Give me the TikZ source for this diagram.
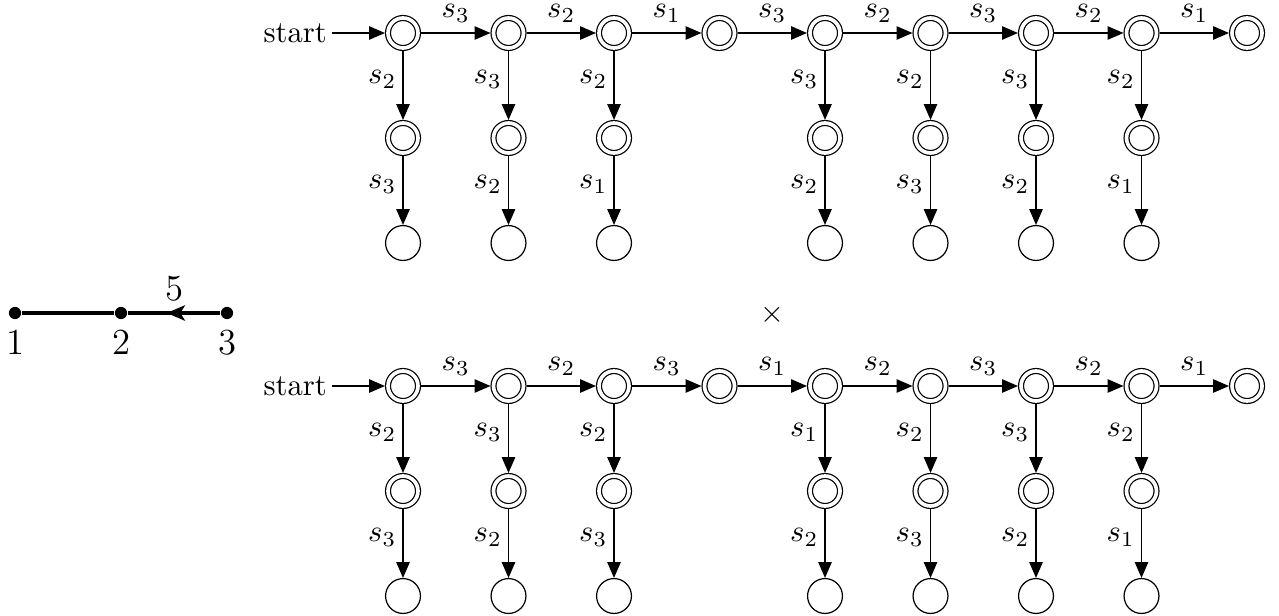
\documentclass[tikz,border=0pt]{standalone}
\usetikzlibrary{arrows.meta,decorations.markings}
\begin{document}
\begin{tikzpicture}[x=0.3268pt,y=-0.3268pt,
  acc/.style={circle,draw,double,double distance=1.2pt,minimum size=9.8pt,inner sep=0pt,outer sep=1pt},
  plain/.style={circle,draw,minimum size=11.4pt,inner sep=0pt},
  tr/.style={-{Triangle[length=5.2pt,width=4.4pt]}},
  vlab/.style={left,inner sep=2pt,yshift=2pt},
  hlab/.style={above,inner sep=1pt,yshift=2.3pt},
  gdot/.style={circle,fill,inner sep=0pt,minimum size=4pt},
  gedge/.style={line width=1pt}]
\useasboundingbox (0,0) rectangle (1279,615);

% ---------- top automaton ----------
\foreach \i in {0,...,8} \node[acc] (A\i) at ({403+105.5*\i},33) {};
\node[anchor=east,inner sep=1.5pt] (S1) at (332,33) {start};
\draw[tr] (S1) -- (A0);
\foreach \i/\l [count=\j] in {0/3,1/2,2/1,3/3,4/2,5/3,6/2,7/1}
  \draw[tr] (A\i) -- node[hlab] {$s_\l$} (A\j);
\foreach \i/\a/\b in {0/2/3,1/3/2,2/2/1,4/3/2,5/2/3,6/3/2,7/2/1} {
  \node[acc] (B\i) at ({403+105.5*\i},138) {};
  \node[plain] (C\i) at ({403+105.5*\i},243) {};
  \draw[tr] (A\i) -- node[vlab] {$s_\a$} (B\i);
  \draw[tr] (B\i) -- node[vlab] {$s_\b$} (C\i);
}

% ---------- bottom automaton ----------
\foreach \i in {0,...,8} \node[acc] (D\i) at ({403+105.5*\i},386) {};
\node[anchor=east,inner sep=1.5pt] (S2) at (332,386) {start};
\draw[tr] (S2) -- (D0);
\foreach \i/\l [count=\j] in {0/3,1/2,2/3,3/1,4/2,5/3,6/2,7/1}
  \draw[tr] (D\i) -- node[hlab] {$s_\l$} (D\j);
\foreach \i/\a/\b in {0/2/3,1/3/2,2/2/3,4/1/2,5/2/3,6/3/2,7/2/1} {
  \node[acc] (E\i) at ({403+105.5*\i},491) {};
  \node[plain] (F\i) at ({403+105.5*\i},596) {};
  \draw[tr] (D\i) -- node[vlab] {$s_\a$} (E\i);
  \draw[tr] (E\i) -- node[vlab] {$s_\b$} (F\i);
}

% ---------- product sign ----------
\node (X) at (772,315) {$\times$};

% ---------- left graph ----------
\node[gdot,label={[font=\large]below:1}] (g1) at (15,313) {};
\node[gdot,label={[font=\large]below:2}] (g2) at (121,313) {};
\node[gdot,label={[font=\large]below:3}] (g3) at (227,313) {};
\draw[gedge] (g1) -- (g2);
\draw[gedge,postaction={decorate},decoration={markings,mark=at position 0.58 with {\arrow{Stealth[length=6pt,width=5pt,inset=1.5pt]}}}]
  (g3) -- node[above,font=\large] {5} (g2);
\end{tikzpicture}
\end{document}
